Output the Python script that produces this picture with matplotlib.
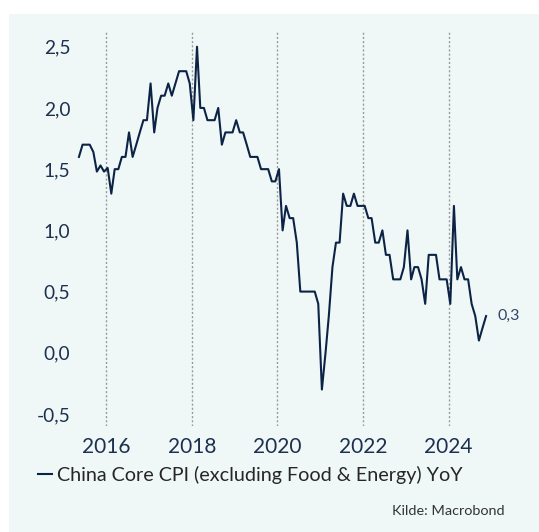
import matplotlib
matplotlib.use("Agg")
import matplotlib.pyplot as plt
import matplotlib.dates as mdates
from matplotlib.patches import Rectangle
import pandas as pd

plt.rcParams['font.family'] = ['Lato', 'DejaVu Sans']

# China core CPI (ex food & energy), % YoY, monthly from May 2015 to Nov 2024
start_month = "2015-05"
cpi_core = [
    1.6, 1.7, 1.7, 1.7, 1.64, 1.48, 1.53, 1.48,                       # 2015 May-Dec
    1.51, 1.3, 1.5, 1.5, 1.6, 1.6, 1.8, 1.6, 1.7, 1.8, 1.9, 1.9,      # 2016
    2.2, 1.8, 2.0, 2.1, 2.1, 2.2, 2.1, 2.2, 2.3, 2.3, 2.3, 2.2,       # 2017
    1.9, 2.5, 2.0, 2.0, 1.9, 1.9, 1.9, 2.0, 1.7, 1.8, 1.8, 1.8,       # 2018
    1.9, 1.8, 1.8, 1.7, 1.6, 1.6, 1.6, 1.5, 1.5, 1.5, 1.4, 1.4,       # 2019
    1.5, 1.0, 1.2, 1.1, 1.1, 0.9, 0.5, 0.5, 0.5, 0.5, 0.5, 0.4,       # 2020
    -0.3, 0.0, 0.3, 0.7, 0.9, 0.9, 1.3, 1.2, 1.2, 1.3, 1.2, 1.2,      # 2021
    1.2, 1.1, 1.1, 0.9, 0.9, 1.0, 0.8, 0.8, 0.6, 0.6, 0.6, 0.7,       # 2022
    1.0, 0.6, 0.7, 0.7, 0.6, 0.4, 0.8, 0.8, 0.8, 0.6, 0.6, 0.6,       # 2023
    0.4, 1.2, 0.6, 0.7, 0.6, 0.6, 0.4, 0.3, 0.1, 0.2, 0.3,            # 2024 Jan-Nov
]
series_label = "China Core CPI (excluding Food & Energy) YoY"
source_text = "Kilde: Macrobond"
y_ticks = [-0.5, 0.0, 0.5, 1.0, 1.5, 2.0, 2.5]

dates = pd.date_range(start_month, periods=len(cpi_core), freq="MS") + pd.Timedelta(days=14)

navy = "#0d2346"
fig = plt.figure(figsize=(5.39, 5.32), dpi=100, facecolor="white")
# light panel behind the chart
fig.patches.append(Rectangle((9 / 539, 0), 1 - 9 / 539, 518 / 532,
                             transform=fig.transFigure, facecolor="#eff8f7",
                             edgecolor="none", zorder=-10))

ax = fig.add_axes([0.141, 0.1992, 0.771, 0.7406])
ax.set_zorder(5)
ax.set_facecolor("none")
ax.plot(dates, cpi_core, color=navy, lw=1.5, label=series_label)

ax.set_xlim(pd.Timestamp("2015-04-20"), pd.Timestamp("2025-01-01"))
ax.set_ylim(-0.598, 2.62)
ax.xaxis.set_major_locator(mdates.YearLocator(2))
ax.xaxis.set_major_formatter(mdates.DateFormatter("%Y"))
ax.set_yticks(y_ticks)
ax.set_yticklabels([f"{v:.1f}".replace(".", ",") for v in y_ticks])
ax.grid(axis="x", color="#9a9a9a", linestyle=(0, (1.5, 1.5)), lw=1)
for s in ax.spines.values():
    s.set_visible(False)
ax.tick_params(axis="both", length=0, colors="#1e3050")
ax.tick_params(axis="y", labelsize=13.8, pad=4)
ax.tick_params(axis="x", labelsize=15, pad=8)

# last value label
ax.annotate(f"{cpi_core[-1]:.1f}".replace(".", ","), xy=(dates[-1], cpi_core[-1]),
            xytext=(8.5, 0), textcoords="offset points", va="center", ha="left",
            fontsize=11.5, color="#34466a", annotation_clip=False)

leg = ax.legend(loc="upper left", bbox_to_anchor=(38 / 539, 1 - 466 / 532),
                bbox_transform=fig.transFigure, frameon=False, fontsize=14.2,
                handlelength=0.7, handletextpad=0.25, borderaxespad=0, borderpad=0)
for t in leg.get_texts():
    t.set_color("#262626")

fig.text(505 / 539, 1 - 511 / 532, source_text, ha="right", va="center",
         fontsize=10.4, color="#333333", zorder=6)

fig.savefig("out.png", dpi=100, facecolor=fig.get_facecolor())
